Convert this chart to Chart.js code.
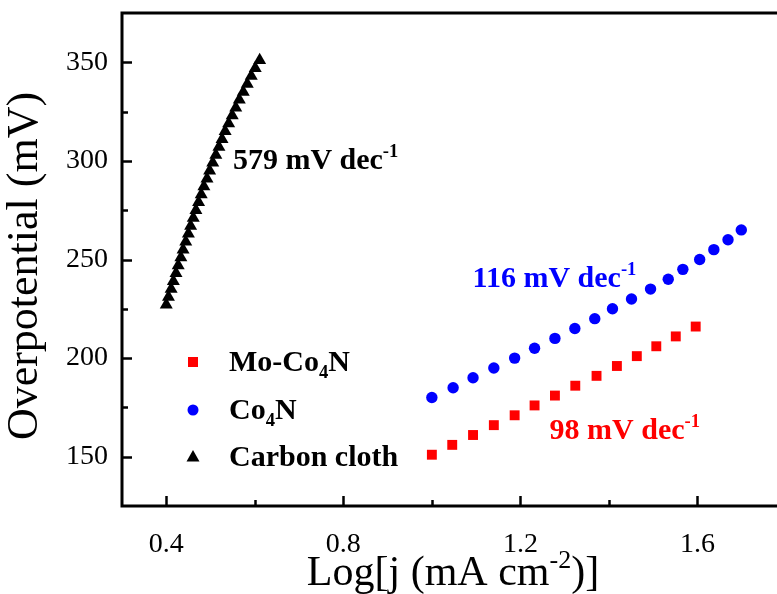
<!DOCTYPE html>
<html>
<head>
<meta charset="utf-8">
<title>Tafel plots</title>
<script src="https://cdn.jsdelivr.net/npm/chart.js@4.4.0/dist/chart.umd.min.js"></script>
<style>
  html, body { margin: 0; padding: 0; background: #fff; overflow: hidden; }
  #wrap { width: 777px; height: 594px; overflow: hidden; }
  canvas { display: block; }
</style>
</head>
<body>
<div id="wrap"><canvas id="tafel" width="800" height="594"></canvas></div>
<script>
const serif = "'Liberation Serif', 'Times New Roman', Times, serif";

// log j (mA cm-2) against overpotential (mV)
const moCo4nLogJ = [1.000, 1.046, 1.093, 1.140, 1.187, 1.232, 1.278, 1.324, 1.372, 1.418, 1.463, 1.507, 1.551, 1.596];
const moCo4nEta = [151, 156, 161, 166, 171, 176, 181, 186, 191, 196, 201, 206, 211, 216];

const co4nLogJ = [1.000, 1.048, 1.093, 1.140, 1.187, 1.232, 1.278, 1.323, 1.368, 1.408, 1.451, 1.494, 1.534, 1.567, 1.605, 1.637, 1.669, 1.699];
const co4nEta = [180, 185, 190, 195, 200, 205, 210, 215, 220, 225, 230, 235, 240, 245, 250, 255, 260, 265];

const clothLogJ = [0.400, 0.405, 0.411, 0.416, 0.422, 0.427, 0.433, 0.438, 0.444, 0.450, 0.455, 0.461,
  0.467, 0.473, 0.479, 0.485, 0.492, 0.498, 0.505, 0.512, 0.519, 0.526, 0.533, 0.541,
  0.549, 0.557, 0.565, 0.574, 0.583, 0.592, 0.601, 0.611];
const clothEta = [227, 231, 235, 239, 243, 247, 251, 255, 259, 263, 267, 271,
  275, 279, 283, 287, 291, 295, 299, 303, 307, 311, 315, 319,
  323, 327, 331, 335, 339, 343, 347, 351];

const seriesNames = ['Mo-Co4N', 'Co4N', 'Carbon cloth'];
const tafelSlopes = [98, 116, 579];
const xMajorTicks = [0.4, 0.8, 1.2, 1.6];
const xMinorTicks = [0.6, 1.0, 1.4];
const yMajorTicks = [150, 200, 250, 300, 350];
const yMinorTicks = [175, 225, 275, 325];

const seriesColors = ['#ff0000', '#0000ff', '#000000'];

function toPoints(xs, ys) {
  return xs.map((x, i) => ({ x: x, y: ys[i] }));
}

function tickList(major, minor) {
  return major.concat(minor).sort((a, b) => a - b).map(v => ({ value: v }));
}

// split "Co4N" into text runs, digits become subscripts
function formulaParts(name) {
  return name.split(/(\d)/).filter(s => s !== '').map(s => (/^\d$/.test(s) ? { t: s, sub: true } : { t: s }));
}

function richWidth(ctx, parts, size, weight) {
  let w = 0;
  parts.forEach(p => {
    const s = p.sub || p.sup ? size * 0.62 : size;
    ctx.font = `${weight} ${s}px ${serif}`;
    w += ctx.measureText(p.t).width;
  });
  return w;
}

function drawRich(ctx, parts, x, y, size, weight, color) {
  let cx = x;
  ctx.fillStyle = color;
  ctx.textAlign = 'left';
  ctx.textBaseline = 'alphabetic';
  parts.forEach(p => {
    const s = p.sub || p.sup ? size * 0.62 : size;
    ctx.font = `${weight} ${s}px ${serif}`;
    const dy = p.sub ? size * 0.24 : (p.sup ? -size * 0.4 : 0);
    ctx.fillText(p.t, cx, y + dy);
    cx += ctx.measureText(p.t).width;
  });
}

function slopeParts(value) {
  return [{ t: value + ' mV dec' }, { t: '-1', sup: true }];
}

const framePlugin = {
  id: 'frame',
  afterDraw(chart) {
    const ctx = chart.ctx;
    const xs = chart.scales.x;
    const ys = chart.scales.y;
    const a = chart.chartArea;

    ctx.save();
    ctx.strokeStyle = '#000';
    ctx.lineCap = 'square';

    // axes box (left, top, bottom)
    ctx.lineWidth = 3;
    ctx.beginPath();
    ctx.moveTo(a.right, a.top);
    ctx.lineTo(a.left, a.top);
    ctx.lineTo(a.left, a.bottom);
    ctx.lineTo(a.right, a.bottom);
    ctx.stroke();

    // inward tick marks
    ctx.lineWidth = 2.5;
    ctx.lineCap = 'butt';
    xs.ticks.forEach(t => {
      const major = xMajorTicks.includes(t.value);
      const px = Math.round(xs.getPixelForValue(t.value)) + 0.5;
      ctx.beginPath();
      ctx.moveTo(px, a.bottom);
      ctx.lineTo(px, a.bottom - (major ? 10 : 6));
      ctx.stroke();
    });
    ys.ticks.forEach(t => {
      const major = yMajorTicks.includes(t.value);
      const py = Math.round(ys.getPixelForValue(t.value)) + 0.5;
      ctx.beginPath();
      ctx.moveTo(a.left, py);
      ctx.lineTo(a.left + (major ? 10 : 6), py);
      ctx.stroke();
    });

    // axis titles
    const xTitle = [{ t: 'Log[j (mA cm' }, { t: '-2', sup: true }, { t: ')]' }];
    const xw = richWidth(ctx, xTitle, 42, 'normal');
    drawRich(ctx, xTitle, 453 - xw / 2, 585, 42, 'normal', '#000');

    ctx.save();
    ctx.translate(37, 266);
    ctx.rotate(-Math.PI / 2);
    ctx.font = `normal 44px ${serif}`;
    ctx.fillStyle = '#000';
    ctx.textAlign = 'center';
    ctx.textBaseline = 'alphabetic';
    ctx.fillText('Overpotential (mV)', 0, 0);
    ctx.restore();

    // Tafel slope labels
    drawRich(ctx, slopeParts(tafelSlopes[2]), xs.getPixelForValue(0.5505), ys.getPixelForValue(296), 30, 'bold', seriesColors[2]);
    drawRich(ctx, slopeParts(tafelSlopes[1]), xs.getPixelForValue(1.092), ys.getPixelForValue(236), 30, 'bold', seriesColors[1]);
    drawRich(ctx, slopeParts(tafelSlopes[0]), xs.getPixelForValue(1.266), ys.getPixelForValue(159), 30, 'bold', seriesColors[0]);

    // legend
    const lx = 193;
    const rows = [362, 410, 457];
    chart.data.datasets.forEach((ds, i) => {
      const cy = rows[i];
      ctx.fillStyle = seriesColors[i];
      ctx.beginPath();
      if (ds.pointStyle === 'rect') {
        ctx.rect(lx - 5, cy - 5, 10, 10);
      } else if (ds.pointStyle === 'circle') {
        ctx.arc(lx, cy, 5.5, 0, Math.PI * 2);
      } else {
        ctx.moveTo(lx, cy - 7);
        ctx.lineTo(lx + 6.5, cy + 4.5);
        ctx.lineTo(lx - 6.5, cy + 4.5);
        ctx.closePath();
      }
      ctx.fill();
      drawRich(ctx, formulaParts(seriesNames[i]), 229, cy + 9, 30, 'bold', '#000');
    });

    ctx.restore();
  }
};

const tickFont = { family: serif, size: 28 };

new Chart(document.getElementById('tafel'), {
  type: 'scatter',
  data: {
    datasets: [
      {
        label: seriesNames[0],
        data: toPoints(moCo4nLogJ, moCo4nEta),
        pointStyle: 'rect',
        pointRadius: 7,
        pointBorderWidth: 0,
        backgroundColor: seriesColors[0]
      },
      {
        label: seriesNames[1],
        data: toPoints(co4nLogJ, co4nEta),
        pointStyle: 'circle',
        pointRadius: 5.7,
        pointBorderWidth: 0,
        backgroundColor: seriesColors[1]
      },
      {
        label: seriesNames[2],
        data: toPoints(clothLogJ, clothEta),
        pointStyle: 'triangle',
        pointRadius: 7.5,
        pointBorderWidth: 0,
        backgroundColor: seriesColors[2]
      }
    ]
  },
  options: {
    responsive: false,
    animation: false,
    layout: { padding: { top: 13, right: 14, left: 0, bottom: 0 } },
    plugins: {
      legend: { display: false },
      tooltip: { enabled: false }
    },
    scales: {
      x: {
        type: 'linear',
        min: 0.3,
        max: 1.8,
        border: { display: false },
        grid: { display: false, drawTicks: false },
        ticks: {
          padding: 22,
          color: '#000',
          font: tickFont,
          maxRotation: 0,
          autoSkip: false,
          callback: v => (xMajorTicks.includes(v) ? v.toFixed(1) : '')
        },
        afterBuildTicks: s => { s.ticks = tickList(xMajorTicks, xMinorTicks); },
        afterFit: s => { s.height = 88; s.paddingLeft = 0; s.paddingRight = 0; }
      },
      y: {
        type: 'linear',
        min: 125,
        max: 375,
        border: { display: false },
        grid: { display: false, drawTicks: false },
        ticks: {
          padding: 14,
          color: '#000',
          font: tickFont,
          autoSkip: false,
          callback: v => (yMajorTicks.includes(v) ? String(v) : '')
        },
        afterBuildTicks: s => { s.ticks = tickList(yMajorTicks, yMinorTicks); },
        afterFit: s => { s.width = 122; s.paddingTop = 0; s.paddingBottom = 0; }
      }
    }
  },
  plugins: [framePlugin]
});
</script>
</body>
</html>
